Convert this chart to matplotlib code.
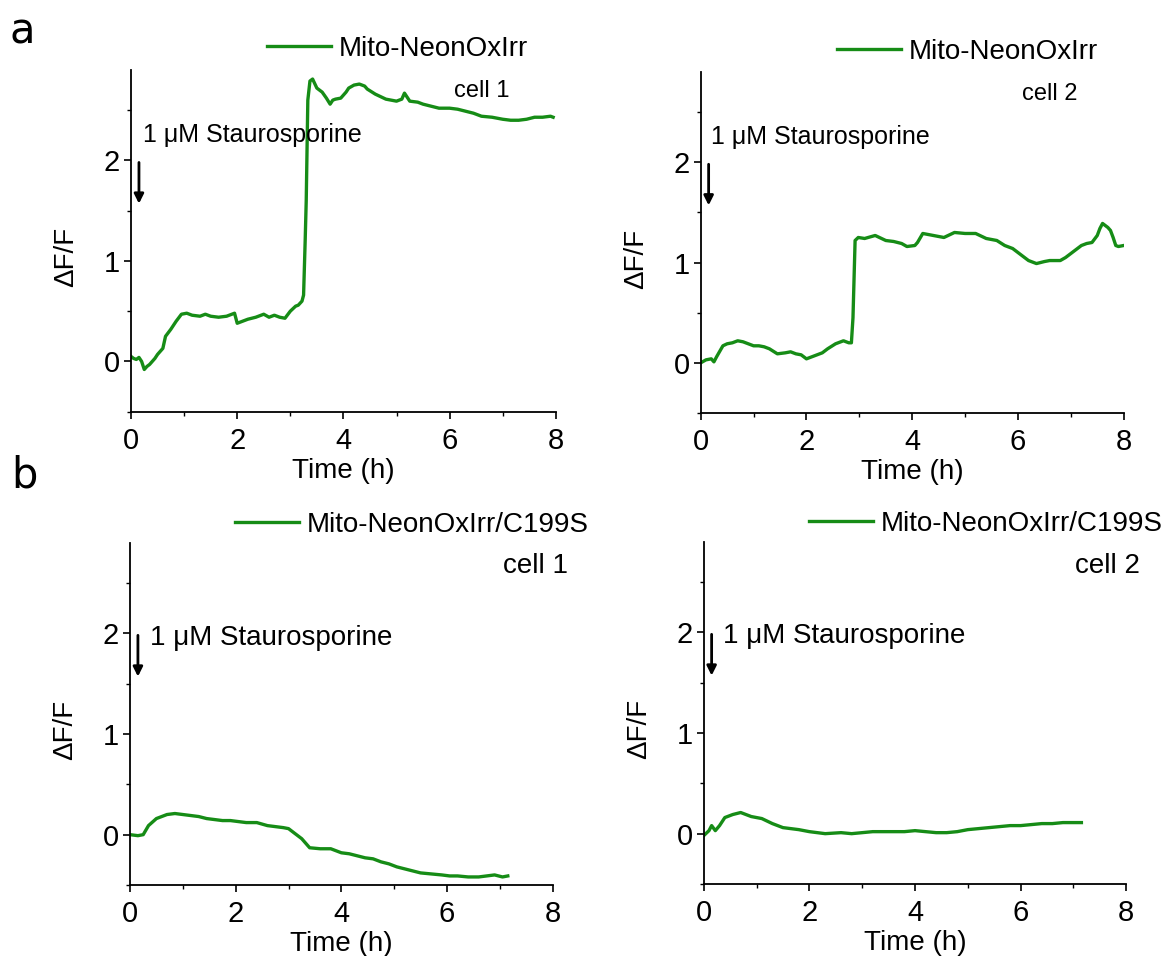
import matplotlib
matplotlib.use("Agg")
import matplotlib.pyplot as plt
from matplotlib.ticker import MultipleLocator

plt.rcParams['font.family'] = ['Liberation Sans', 'DejaVu Sans']

# ── data (time in h, dF/F) ───────────────────────────────────────────────────
t_a1 = [0.0, 0.05, 0.1, 0.15, 0.2, 0.25, 0.3, 0.35, 0.45, 0.5, 0.6, 0.65, 0.75, 0.85,
        0.95, 1.05, 1.15, 1.3, 1.4, 1.5, 1.65, 1.8, 1.95, 2.0, 2.1, 2.2, 2.35, 2.5,
        2.6, 2.7, 2.8, 2.9, 3.0, 3.1, 3.15, 3.22, 3.25, 3.28, 3.3, 3.33, 3.37, 3.42,
        3.5, 3.6, 3.68, 3.75, 3.8, 3.85, 3.95, 4.05, 4.1, 4.2, 4.3, 4.4, 4.45, 4.6,
        4.8, 5.0, 5.1, 5.15, 5.25, 5.4, 5.5, 5.65, 5.8, 6.0, 6.15, 6.3, 6.45, 6.6,
        6.8, 7.0, 7.15, 7.3, 7.45, 7.6, 7.75, 7.9, 7.95]
y_a1 = [0.05, 0.03, 0.02, 0.04, 0.0, -0.08, -0.05, -0.03, 0.03, 0.07, 0.13, 0.25, 0.32, 0.4,
        0.47, 0.48, 0.46, 0.45, 0.47, 0.45, 0.44, 0.45, 0.48, 0.38, 0.40, 0.42, 0.44, 0.47,
        0.44, 0.46, 0.44, 0.43, 0.5, 0.55, 0.56, 0.6, 0.66, 1.2, 1.6, 2.6, 2.79, 2.81,
        2.72, 2.68, 2.62, 2.56, 2.6, 2.61, 2.62, 2.68, 2.72, 2.75, 2.76, 2.74, 2.71, 2.66,
        2.61, 2.59, 2.61, 2.67, 2.59, 2.58, 2.56, 2.54, 2.52, 2.52, 2.51, 2.49, 2.47, 2.44,
        2.43, 2.41, 2.4, 2.4, 2.41, 2.43, 2.43, 2.44, 2.43]

t_a2 = [0.0, 0.1, 0.2, 0.25, 0.3, 0.42, 0.5, 0.6, 0.7, 0.8, 0.9, 1.0, 1.1, 1.2, 1.3,
        1.45, 1.6, 1.7, 1.8, 1.9, 2.0, 2.1, 2.2, 2.3, 2.4, 2.55, 2.7, 2.8, 2.85, 2.88,
        2.92, 2.98, 3.1, 3.3, 3.5, 3.65, 3.8, 3.9, 4.05, 4.1, 4.2, 4.4, 4.6, 4.8, 5.0,
        5.2, 5.4, 5.6, 5.75, 5.9, 6.0, 6.1, 6.2, 6.35, 6.5, 6.6, 6.8, 6.9, 7.0, 7.1,
        7.2, 7.3, 7.4, 7.5, 7.55, 7.6, 7.7, 7.75, 7.8, 7.85, 7.9, 8.0]
y_a2 = [0.0, 0.03, 0.04, 0.01, 0.06, 0.17, 0.19, 0.2, 0.22, 0.21, 0.19, 0.17, 0.17, 0.16, 0.14,
        0.09, 0.1, 0.11, 0.09, 0.08, 0.04, 0.06, 0.08, 0.1, 0.14, 0.19, 0.22, 0.2, 0.2, 0.45,
        1.22, 1.25, 1.24, 1.27, 1.22, 1.21, 1.19, 1.16, 1.17, 1.2, 1.29, 1.27, 1.25, 1.3, 1.29,
        1.29, 1.24, 1.22, 1.17, 1.14, 1.1, 1.06, 1.02, 0.99, 1.01, 1.02, 1.02, 1.05, 1.09, 1.13,
        1.17, 1.19, 1.2, 1.27, 1.34, 1.39, 1.35, 1.32, 1.25, 1.17, 1.16, 1.17]

t_b1 = [0.0, 0.15, 0.25, 0.35, 0.5, 0.7, 0.85, 1.0, 1.15, 1.3, 1.45, 1.6, 1.75, 1.9, 2.05,
        2.2, 2.4, 2.6, 2.75, 2.9, 3.0, 3.1, 3.25, 3.4, 3.6, 3.8, 4.0, 4.15, 4.3, 4.45,
        4.6, 4.75, 4.9, 5.05, 5.2, 5.35, 5.5, 5.7, 5.9, 6.05, 6.2, 6.4, 6.6, 6.75, 6.9,
        7.05, 7.15]
y_b1 = [0.0, -0.01, 0.0, 0.09, 0.16, 0.2, 0.21, 0.2, 0.19, 0.18, 0.16, 0.15, 0.14, 0.14, 0.13,
        0.12, 0.12, 0.09, 0.08, 0.07, 0.06, 0.02, -0.04, -0.13, -0.14, -0.14, -0.18, -0.19, -0.21, -0.23,
        -0.24, -0.27, -0.29, -0.32, -0.34, -0.36, -0.38, -0.39, -0.4, -0.41, -0.41, -0.42, -0.42, -0.41, -0.4,
        -0.42, -0.41]

t_b2 = [0.0, 0.1, 0.15, 0.22, 0.3, 0.4, 0.55, 0.7, 0.9, 1.1, 1.3, 1.5, 1.8, 2.0, 2.3,
        2.6, 2.8, 3.0, 3.2, 3.4, 3.6, 3.8, 4.0, 4.2, 4.4, 4.6, 4.8, 5.0, 5.2, 5.4,
        5.6, 5.8, 6.0, 6.2, 6.4, 6.6, 6.8, 7.0, 7.15]
y_b2 = [-0.02, 0.03, 0.08, 0.03, 0.08, 0.16, 0.19, 0.21, 0.17, 0.15, 0.1, 0.06, 0.04, 0.02, 0.0,
        0.01, 0.0, 0.01, 0.02, 0.02, 0.02, 0.02, 0.03, 0.02, 0.01, 0.01, 0.02, 0.04, 0.05, 0.06,
        0.07, 0.08, 0.08, 0.09, 0.1, 0.1, 0.11, 0.11, 0.11]

series = [(t_a1, y_a1), (t_a2, y_a2), (t_b1, y_b1), (t_b2, y_b2)]
legend_names = ["Mito-NeonOxIrr", "Mito-NeonOxIrr", "Mito-NeonOxIrr/C199S", "Mito-NeonOxIrr/C199S"]
cell_names = ["cell 1", "cell 2", "cell 1", "cell 2"]

# ── layout ───────────────────────────────────────────────────────────────────
W, H = 1165, 956
GREEN = "#168c16"
FS = 20

fig = plt.figure(figsize=(W / 100, H / 100), dpi=100)

boxes = [(131, 70, 555.8, 411.7), (700.7, 72, 1123.7, 413),
         (130, 542.7, 552.7, 885), (703.7, 541.7, 1126.3, 884)]
leg_anchor = [(0.32, 1.062), (0.322, 1.06), (0.248, 1.052), (0.249, 1.052)]
cell_pos = [(6.08, 2.69), (6.07, 2.68), (7.05, 2.67), (7.03, 2.66)]
cell_fs = [17, 17, 20, 20]
stauro_pos = [(0.23, 2.25), (0.19, 2.25), (0.38, 1.95), (0.36, 1.96)]
stauro_fs = [18, 18, 20, 20]

for i, (x0, y0, x1, y1) in enumerate(boxes):
    ax = fig.add_axes([x0 / W, 1 - y1 / H, (x1 - x0) / W, (y1 - y0) / H])
    t, y = series[i]
    ax.plot(t, y, color=GREEN, lw=2.4, label=legend_names[i])
    ax.set_xlim(0, 8)
    ax.set_ylim(-0.5, 2.9)
    ax.xaxis.set_major_locator(MultipleLocator(2))
    ax.xaxis.set_minor_locator(MultipleLocator(1))
    ax.yaxis.set_major_locator(MultipleLocator(1))
    ax.yaxis.set_minor_locator(MultipleLocator(0.5))
    for s in ("top", "right"):
        ax.spines[s].set_visible(False)
    for s in ("left", "bottom"):
        ax.spines[s].set_linewidth(1.3)
    ax.tick_params(which="major", direction="out", length=5, width=1.2,
                   labelsize=21, pad=3)
    ax.tick_params(which="minor", direction="out", length=3, width=1.0)
    ax.tick_params(axis="x", which="major", pad=6)
    ax.set_xlabel("Time (h)", fontsize=FS, labelpad=2)
    ax.set_ylabel("ΔF/F", fontsize=FS)
    ax.yaxis.set_label_coords(-0.123, 0.453)

    ax.legend(loc="center left", bbox_to_anchor=leg_anchor[i], frameon=False,
              fontsize=FS, handlelength=2.3, handletextpad=0.3,
              borderpad=0, borderaxespad=0)
    ax.text(cell_pos[i][0], cell_pos[i][1], cell_names[i], fontsize=cell_fs[i],
            ha="left", va="center")
    sx, sy = stauro_pos[i]
    ax.text(sx, sy, "1 μM Staurosporine", fontsize=stauro_fs[i],
            ha="left", va="center")
    ax.annotate("", xy=(0.15, 1.57), xytext=(0.15, 1.98),
                arrowprops=dict(arrowstyle="-|>", color="black", lw=2.0,
                                mutation_scale=14, shrinkA=0, shrinkB=0))

fig.text(22 / W, 1 - 31 / H, "a", fontsize=30, family="DejaVu Sans",
         ha="center", va="center")
fig.text(24 / W, 1 - 476 / H, "b", fontsize=30, family="DejaVu Sans",
         ha="center", va="center")

fig.savefig("out.png", dpi=100)
